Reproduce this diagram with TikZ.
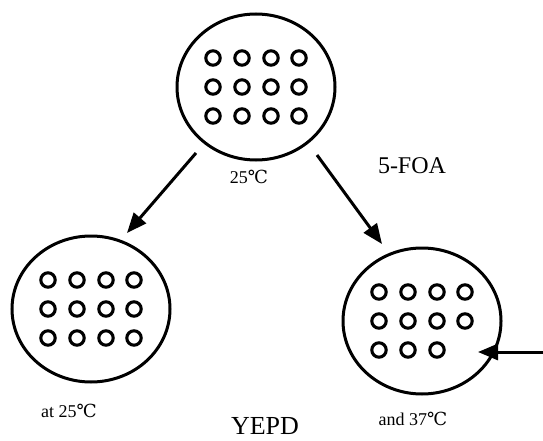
\documentclass[tikz,border=0pt]{standalone}
\usepackage{fontspec}
\setmainfont{Liberation Serif}
\newfontfamily\degfont{DejaVu Serif}
\usetikzlibrary{shapes.geometric}
\usetikzlibrary{arrows.meta}
\newcommand{\degC}{{\degfont ℃}}
\tikzset{
    myplate/.style = {ellipse, line width=3pt, draw=black, minimum width=158pt, minimum height=146pt, inner sep=0pt},
    mydot/.style = {line width=3.1pt, draw=black},
    edgea/.style = {-{Triangle[length=20pt,width=16pt]}, line width=3pt, black},
    mylabel/.style = {font=\fontsize{18}{18}\selectfont, inner sep=0pt},
    mylabelb/.style = {font=\fontsize{24}{24}\selectfont, inner sep=0pt},
    mylabelc/.style = {font=\fontsize{26}{26}\selectfont, inner sep=0pt}
}

\begin{document}
\begin{tikzpicture}[x=1pt, y=-1pt]
  \useasboundingbox (0,0) rectangle (543,441);
  % plates
  \node[myplate] (top) at (256,87) {};
  \node[myplate] (left) at (91,309) {};
  \node[myplate] (right) at (422,321) {};
  % colonies
  \foreach \dx in {-43,-14,15,43}
    \foreach \dy in {-29,0,29} {
      \draw[mydot] ([shift={(\dx,\dy)}]top.center) circle (7.2pt);
      \draw[mydot] ([shift={(\dx,\dy)}]left.center) circle (7.2pt);
    }
  \foreach \dx in {-43,-14,15,43}
    \foreach \dy in {-29,0}
      \draw[mydot] ([shift={(\dx,\dy)}]right.center) circle (7.2pt);
  \foreach \dx in {-43,-14,15}
    \draw[mydot] ([shift={(\dx,29)}]right.center) circle (7.2pt);
  % labels
  \node[mylabel] (t25) at (249,177) {25\degC};
  \node[mylabelb] (foa) at (412,166) {5-FOA};
  \node[mylabel] (at25) at (69,411) {at 25\degC};
  \node[mylabelc] (yepd) at (265,426) {YEPD};
  \node[mylabel] (and37) at (413,419) {and 37\degC};
  % arrows
  \coordinate (ls) at (196,153);
  \coordinate (le) at (127,233);
  \coordinate (rs) at (317,155);
  \coordinate (re) at (382,244);
  \coordinate (ss) at (543,352);
  \coordinate (se) at (478,352);
  \draw[edgea] (ls) -- (le);
  \draw[edgea] (rs) -- (re);
  \draw[edgea] (ss) -- (se);
\end{tikzpicture}
\end{document}
